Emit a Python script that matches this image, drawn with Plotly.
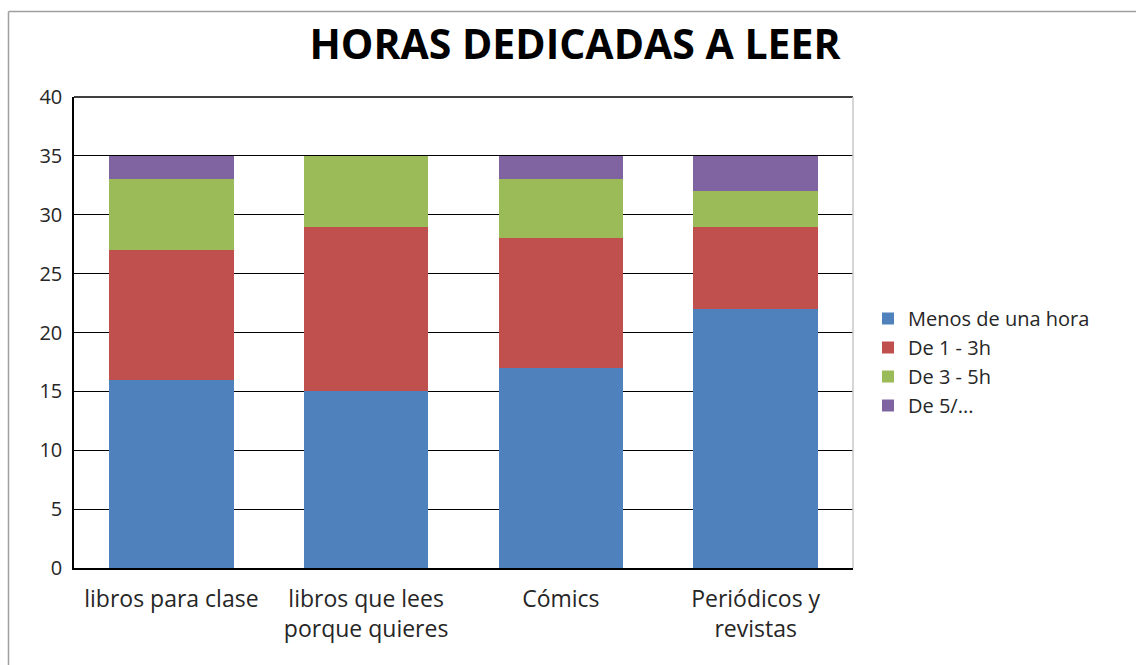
import plotly.graph_objects as go

# Reading time survey: number of students per time bracket and reading type
categories = ["libros para clase", "libros que lees<br>porque quieres", "Cómics", "Periódicos y<br>revistas"]
menos_de_una_hora = [16, 15, 17, 22]
de_1_a_3h = [11, 14, 11, 7]
de_3_a_5h = [6, 6, 5, 3]
de_5_mas = [2, 0, 2, 3]

series_names = ["Menos de una hora", "De 1 - 3h", "De 3 - 5h", "De 5/..."]
series_values = [menos_de_una_hora, de_1_a_3h, de_3_a_5h, de_5_mas]
colors = ["#4F81BD", "#C0504D", "#9BBB59", "#8064A2"]

y_ticks = [0, 5, 10, 15, 20, 25, 30, 35, 40]

FONT = "Open Sans"
TEXT = "#262626"

fig = go.Figure()
for name, vals, col in zip(series_names, series_values, colors):
    fig.add_trace(go.Bar(
        x=categories, y=vals, name=name,
        marker=dict(color=col, line=dict(width=0)),
    ))

W, H = 1136, 665
L, R, T, B = 74, 283, 97, 97
pw, ph = W - L - R, H - T - B


def px_x(p):
    return (p - L) / pw


def px_y(p):
    return (H - B - p) / ph


fig.update_layout(
    width=W, height=H,
    margin=dict(l=L, r=R, t=T, b=B),
    barmode="stack",
    bargap=0.36,
    paper_bgcolor="white",
    plot_bgcolor="white",
    font=dict(family=FONT, size=20, color=TEXT),
    title=dict(
        text="<b>HORAS DEDICADAS A LEER</b>",
        font=dict(family=FONT, size=41, color="#000000"),
        x=575 / W, xref="container", xanchor="center",
        y=1 - 45 / H, yref="container", yanchor="middle",
    ),
    legend=dict(
        x=px_x(868), y=px_y(299), xanchor="left", yanchor="top",
        traceorder="normal",
        font=dict(family=FONT, size=20, color=TEXT),
        itemwidth=30, tracegroupgap=0,
        bgcolor="rgba(0,0,0,0)",
    ),
    xaxis=dict(
        showline=True, linecolor="#000000", linewidth=1.5,
        ticks="", showgrid=False, ticklabelstandoff=10,
        tickfont=dict(family=FONT, size=23, color=TEXT),
    ),
    yaxis=dict(
        range=[0, 40], tickvals=y_ticks,
        showline=True, linecolor="#000000", linewidth=1.5,
        showgrid=True, gridcolor="#000000", gridwidth=1.4,
        ticks="", ticklabelstandoff=6,
        tickfont=dict(family=FONT, size=20, color=TEXT),
        zeroline=False,
    ),
    shapes=[
        # gridline at the top of the value range
        dict(type="line", xref="paper", yref="paper", x0=0, x1=1, y0=1, y1=1,
             line=dict(color="#000000", width=1.4)),
        # light frame on the right side of the plotting area
        dict(type="line", xref="paper", yref="paper", x0=1, x1=1, y0=0, y1=1,
             line=dict(color="#C8C8C8", width=1.5)),
        # outer chart border (top and left)
        dict(type="line", xref="paper", yref="paper",
             x0=px_x(8.5), x1=px_x(1140), y0=px_y(11.5), y1=px_y(11.5),
             line=dict(color="#A0A0A0", width=1.5)),
        dict(type="line", xref="paper", yref="paper",
             x0=px_x(8.5), x1=px_x(8.5), y0=px_y(11.5), y1=px_y(670),
             line=dict(color="#A0A0A0", width=1.5)),
    ],
)

fig.write_html("out.html")
